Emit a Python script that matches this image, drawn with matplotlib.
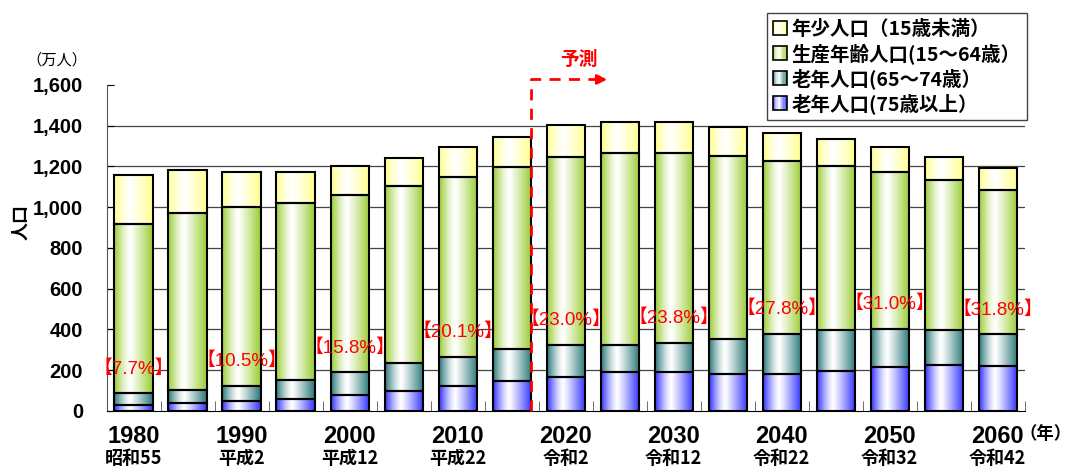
import numpy as np
import matplotlib.pyplot as plt
from matplotlib.colors import to_rgb
from matplotlib.patches import Rectangle
from matplotlib.legend_handler import HandlerBase

# population (10,000 persons)
years = [1980, 1985, 1990, 1995, 2000, 2005, 2010, 2015, 2020, 2025,
         2030, 2035, 2040, 2045, 2050, 2055, 2060]
eras = ['昭和55', '', '平成2', '', '平成12', '', '平成22', '', '令和2', '',
        '令和12', '', '令和22', '', '令和32', '', '令和42']
old75 = [29, 38, 51, 57, 77, 100, 123, 147, 168, 190, 190, 182, 182, 195, 217, 226, 222]
old65_74 = [58, 65, 72, 95, 113, 134, 143, 159, 157, 135, 145, 170, 196, 202, 185, 171, 154]
working = [831, 867, 880, 871, 868, 868, 884, 893, 920, 939, 932, 899, 850, 805, 771, 736, 708]
young = [240, 212, 171, 151, 144, 138, 147, 147, 158, 156, 153, 144, 134, 131, 121, 115, 111]
pct_labels = ['7.7', '10.5', '15.8', '20.1', '23.0', '23.8', '27.8', '31.0', '31.8']

series = [
    (old75, '#3333ff', '老年人口(75歳以上）'),
    (old65_74, '#2a7878', '老年人口(65～74歳）'),
    (working, '#99cc33', '生産年齢人口(15～64歳）'),
    (young, '#ffff8c', '年少人口（15歳未満）'),
]

CJK = ['Noto Sans CJK JP', 'DejaVu Sans']
plt.rcParams['font.family'] = CJK


def shade(t):
    # white near 42% of the width, colour towards both edges
    t = np.asarray(t)
    left = np.clip((0.42 - t) / 0.42, 0, 1) ** 1.4
    right = np.clip((t - 0.42) / 0.58, 0, 1) ** 1.1
    return np.maximum(left, right)


def gradient(color, n=64):
    c = np.array(to_rgb(color))
    w = shade(np.linspace(0, 1, n))[:, None]
    row = (1 - w) * 1.0 + w * c
    return row[None, :, :]


class GradHandler(HandlerBase):
    def create_artists(self, legend, orig_handle, xdescent, ydescent,
                       width, height, fontsize, trans):
        col = orig_handle.get_facecolor()
        arts = []
        n = 12
        c = np.array(to_rgb(col))
        for k in range(n):
            w = shade((k + 0.5) / n)
            arts.append(Rectangle((-xdescent + width * k / n, -ydescent), width / n + 0.3, height,
                                  facecolor=(1 - w) + w * c, edgecolor='none', transform=trans))
        arts.append(Rectangle((-xdescent, -ydescent), width, height, facecolor='none',
                              edgecolor='black', lw=1.2, transform=trans))
        return arts


fig = plt.figure(figsize=(10.73, 4.68), dpi=100)
ax = fig.add_axes([0.0994, 0.1218, 0.8556, 0.6966])

x = np.arange(len(years))
bottom = np.zeros(len(years))
handles = []
for vals, col, lab in series:
    bars = ax.bar(x, vals, bottom=bottom, width=0.71, facecolor='none',
                  edgecolor='black', linewidth=1.5, zorder=3)
    for b in bars:
        ax.imshow(gradient(col), extent=(b.get_x(), b.get_x() + b.get_width(),
                                          b.get_y(), b.get_y() + b.get_height()),
                  aspect='auto', interpolation='bilinear', zorder=2)
    handles.append(Rectangle((0, 0), 1, 1, facecolor=col, label=lab))
    bottom += np.array(vals)

ax.set_xlim(-0.5, len(years) - 0.5)
ax.set_ylim(0, 1600)

# share of 65+ labels
elder = np.array(old75) + np.array(old65_74)
for i, p in zip(range(0, len(years), 2), pct_labels):
    ax.text(i, elder[i] + 120, '【' + p + '%】', color='#ff0000', fontsize=13.5,
            family=['Liberation Sans', 'Noto Sans CJK JP'],
            ha='center', va='center', zorder=5)

# forecast marker
ax.plot([7.36, 7.36, 8.62], [0, 1627, 1627], color='#ff0000', lw=2,
        dashes=(4, 3), clip_on=False, zorder=6)
ax.annotate('', xy=(8.82, 1627), xytext=(8.6, 1627),
            arrowprops=dict(arrowstyle='-|>', color='#ff0000', lw=2, mutation_scale=14),
            annotation_clip=False)
ax.text(8.24, 1725, '予測', color='#ff0000', fontsize=13.5, fontweight='bold',
        ha='center', va='center')

# axes styling
ax.set_yticks(range(0, 1601, 200))
ax.set_yticklabels([f'{v:,}' for v in range(0, 1601, 200)],
                   family='Liberation Sans', fontweight='bold', fontsize=14.5)
ax.tick_params(axis='y', direction='in', length=5, pad=17)
ax.set_xticks([])
ax.set_xticks(np.arange(-0.5, len(years)), minor=True)
ax.tick_params(axis='x', which='minor', direction='in', length=7, color='#555555')
for v in range(200, 1401, 200):
    ax.axhline(v, color='#444444', lw=0.9, zorder=1)
for s in ['top', 'right']:
    ax.spines[s].set_visible(False)
ax.spines['left'].set_color('#555555')

tr = ax.get_xaxis_transform()
for i, (yr, era) in enumerate(zip(years, eras)):
    if era:
        ax.text(i, -0.079, str(yr), transform=tr, ha='center', va='center',
                family='Liberation Sans', fontweight='bold', fontsize=17)
        ax.text(i, -0.147, era, transform=tr, ha='center', va='center',
                fontweight='bold', fontsize=13)

fig.text(0.019, 0.525, '人口', rotation=90, ha='center', va='center',
         fontsize=13, fontweight='bold')
fig.text(0.053, 0.872, '（万人）', ha='center', va='center', fontsize=11)
fig.text(0.999, 0.072, '（年）', ha='right', va='center', fontsize=12.5, fontweight='bold')

leg = fig.legend(handles=handles[::-1], loc='upper left', bbox_to_anchor=(0.7145, 0.9716),
                 handler_map={Rectangle: GradHandler()}, fancybox=False, framealpha=1,
                 edgecolor='#444444', fontsize=14, handlelength=0.72, handleheight=0.72,
                 handletextpad=0.25, labelspacing=0.22, borderpad=0.32, borderaxespad=0)
for t in leg.get_texts():
    t.set_fontweight('bold')
leg.get_frame().set_linewidth(1.0)

fig.savefig('out.png', dpi=100)
